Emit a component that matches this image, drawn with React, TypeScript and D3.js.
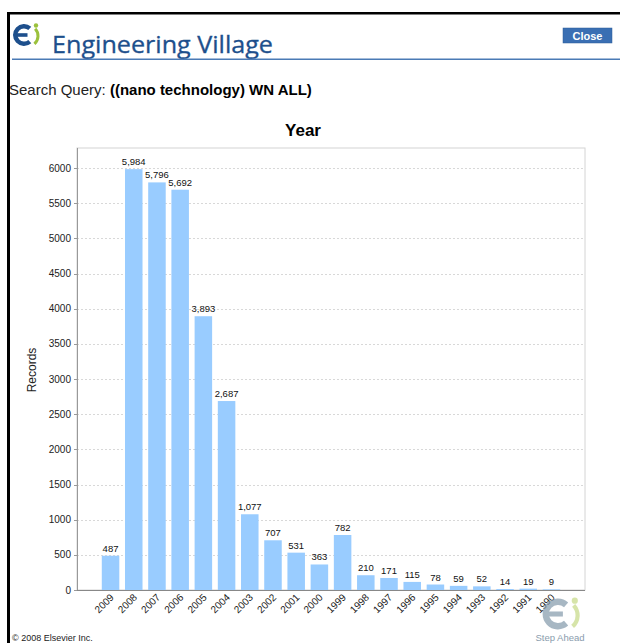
import React, { useMemo } from "react";
import * as d3 from "d3";

const years = ["2009","2008","2007","2006","2005","2004","2003","2002","2001","2000","1999","1998","1997","1996","1995","1994","1993","1992","1991","1990"];
const records = [487,5984,5796,5692,3893,2687,1077,707,531,363,782,210,171,115,78,59,52,14,19,9];
const yTicks = [0,500,1000,1500,2000,2500,3000,3500,4000,4500,5000,5500,6000];
const chartTitle = "Year";
const yLabel = "Records";

const W = 620, H = 643;
const plot = { left: 77, right: 585, top: 148, bottom: 590 };
const HP = Math.PI / 2;

function Logo({ cx, cy, s, blue, green }: { cx: number; cy: number; s: number; blue: string; green: string }) {
  const cArc = d3.arc()({ innerRadius: 6.5 * s, outerRadius: 11 * s, startAngle: HP + 0.85, endAngle: HP + 2 * Math.PI - 0.85 }) as string;
  const gArc = d3.arc()({ innerRadius: 9 * s, outerRadius: 12 * s, startAngle: HP - 0.75, endAngle: HP + 0.85 }) as string;
  return (
    <g transform={`translate(${cx},${cy})`}>
      <path d={cArc} fill={blue} />
      <rect x={-9 * s} y={-1.8 * s} width={12.5 * s} height={3.6 * s} fill={blue} />
      <path d={gArc} transform={`translate(${3.5 * s},${1 * s})`} fill={green} />
      <circle cx={12 * s} cy={-9.5 * s} r={2.2 * s} fill={green} />
    </g>
  );
}

export default function App() {
  const x = useMemo(() => d3.scaleBand<string>().domain(years)
    .range([plot.left + 22, plot.right - 22]).paddingInner(0.245).paddingOuter(0.12), []);
  const y = useMemo(() => d3.scaleLinear().domain([0, 6285]).range([plot.bottom, plot.top]), []);
  const fmt = d3.format(",");
  const font = "'Liberation Sans', Arial, sans-serif";

  return (
    <svg width={W} height={H} style={{ position: "absolute", left: 0, top: 0, background: "#fff" }} fontFamily={font}>
      <rect x={0} y={0} width={W} height={H} fill="#fff" />
      {/* frame */}
      <rect x={8} y={12} width={W - 8} height={2.5} fill="#000" />
      <rect x={7} y={12} width={3} height={H - 12} fill="#000" />

      {/* header logo */}
      <Logo cx={24} cy={35} s={1} blue="#1d4f8c" green="#9bc13c" />
      <text x={52} y={53} fontFamily="'Open Sans', 'Noto Sans', sans-serif" fontSize={23} textLength={221}
        lengthAdjust="spacingAndGlyphs" fill="#1d4f8c" stroke="#1d4f8c" strokeWidth={0.3}>Engineering Village</text>
      <rect x={12} y={58.5} width={W - 12} height={1.5} fill="#4a7ab5" />

      {/* close button */}
      <rect x={563} y={28} width={49} height={15} fill="#3a6fb3" stroke="#2d5c99" strokeWidth={0.5} />
      <text x={587.5} y={39.5} textAnchor="middle" fontSize={11} fontWeight="bold" fill="#fff">Close</text>

      {/* search query */}
      <text x={9} y={95} fontSize={15} fill="#000">
        <tspan fill="#222">Search Query: </tspan>
        <tspan fontWeight="bold">((nano technology) WN ALL)</tspan>
      </text>

      {/* title */}
      <text x={303} y={136} textAnchor="middle" fontSize={17} fontWeight="bold" fill="#000">{chartTitle}</text>

      {/* plot frame */}
      <rect x={plot.left} y={plot.top} width={plot.right - plot.left} height={plot.bottom - plot.top} fill="none" stroke="#d4d4d4" strokeWidth={1} />

      {/* gridlines */}
      {yTicks.filter(t => t > 0).map(t => (
        <line key={t} x1={plot.left} x2={plot.right} y1={Math.round(y(t)) + 0.5} y2={Math.round(y(t)) + 0.5}
          stroke="#d8d8d8" strokeDasharray="2,2" />
      ))}

      {/* bars */}
      {years.map((yr, i) => (
        <rect key={yr} x={x(yr)!} y={y(records[i])} width={x.bandwidth()} height={plot.bottom - y(records[i])} fill="#99ccff" />
      ))}

      {/* value labels */}
      {years.map((yr, i) => (
        <text key={"v" + yr} x={x(yr)! + x.bandwidth() / 2} y={y(records[i]) - 4} textAnchor="middle" fontSize={9.5} fill="#111">
          {fmt(records[i])}
        </text>
      ))}

      {/* axes */}
      <line x1={plot.left + 0.5} x2={plot.left + 0.5} y1={plot.top} y2={plot.bottom} stroke="#999" />
      <line x1={plot.left} x2={plot.right} y1={plot.bottom + 0.5} y2={plot.bottom + 0.5} stroke="#888" />
      {yTicks.map(t => (
        <g key={"t" + t}>
          <line x1={plot.left - 3} x2={plot.left} y1={Math.round(y(t)) + 0.5} y2={Math.round(y(t)) + 0.5} stroke="#999" />
          <text x={plot.left - 6} y={y(t) + 3.5} textAnchor="end" fontSize={10} fill="#222">{t}</text>
        </g>
      ))}
      {years.map(yr => {
        const cx = x(yr)! + x.bandwidth() / 2 + 4;
        const cy = plot.bottom + 8;
        return (
          <text key={"x" + yr} x={cx} y={cy} textAnchor="end" fontSize={10} fill="#222"
            transform={`rotate(-45,${cx},${cy})`}>{yr}</text>
        );
      })}
      <text x={0} y={0} transform={`translate(36,370) rotate(-90)`} textAnchor="middle" fontSize={12} fill="#222">{yLabel}</text>

      {/* bottom logo */}
      <g opacity={0.7}>
        <Logo cx={558} cy={614} s={1.4} blue="#8399ab" green="#c6da86" />
      </g>
      <text x={560} y={641} textAnchor="middle" fontSize={9.5} fill="#8a9cad">Step Ahead</text>

      {/* footer */}
      <text x={12} y={641} fontSize={9} fill="#222">© 2008 Elsevier Inc.</text>
    </svg>
  );
}
